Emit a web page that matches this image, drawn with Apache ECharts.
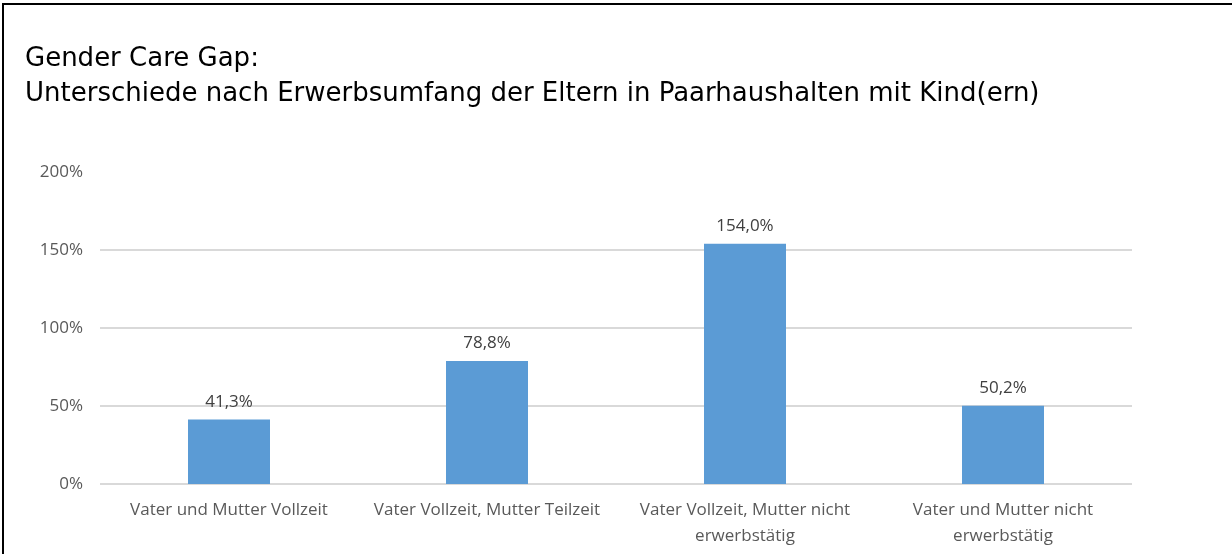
<!DOCTYPE html>
<html>
<head>
<meta charset="utf-8">
<script src="https://cdn.jsdelivr.net/npm/echarts@6/dist/echarts.min.js"></script>
<style>
  html, body { margin: 0; padding: 0; background: #fff; overflow: hidden; }
  #frame { position: absolute; left: 2px; top: 3px; width: 1240px; height: 560px;
           border-top: 2px solid #000; border-left: 2px solid #000; }
  #chart { position: absolute; left: 0; top: 0; width: 1232px; height: 554px; }
</style>
</head>
<body>
<div id="chart"></div>
<div id="frame"></div>
<script>
// Gender Care Gap je Erwerbskonstellation
const categories = [
  'Vater und Mutter Vollzeit',
  'Vater Vollzeit, Mutter Teilzeit',
  'Vater Vollzeit, Mutter nicht\nerwerbstätig',
  'Vater und Mutter nicht\nerwerbstätig'
]
const gapValues = [41.3, 78.8, 154.0, 50.2]
const yTicks = [0, 50, 100, 150, 200]

const chart = echarts.init(document.getElementById('chart'))
chart.setOption({
  animation: false,
  title: {
    text: 'Gender Care Gap:\nUnterschiede nach Erwerbsumfang der Eltern in Paarhaushalten mit Kind(ern)',
    left: 20,
    top: 37,
    textStyle: {
      fontFamily: 'DejaVu Sans',
      fontSize: 26,
      fontWeight: 'normal',
      color: '#000',
      lineHeight: 35
    }
  },
  grid: { left: 100, right: 100, top: 172, bottom: 70 },
  xAxis: {
    type: 'category',
    data: categories,
    axisLine: { show: false },
    axisTick: { show: false },
    axisLabel: {
      interval: 0,
      color: '#595959',
      fontFamily: 'Open Sans',
      fontSize: 17,
      margin: 13,
      lineHeight: 26
    }
  },
  yAxis: {
    type: 'value',
    min: yTicks[0],
    max: yTicks[yTicks.length - 1],
    interval: 50,
    axisLine: { show: false },
    axisTick: { show: false },
    splitLine: {
      lineStyle: { color: ['#d9d9d9', '#d9d9d9', '#d9d9d9', '#d9d9d9', 'rgba(0,0,0,0)'], width: 2 }
    },
    axisLabel: {
      color: '#595959',
      fontFamily: 'Open Sans',
      fontSize: 17,
      margin: 17,
      formatter: v => v + '%'
    }
  },
  series: [{
    type: 'bar',
    data: gapValues,
    barWidth: 82,
    itemStyle: { color: '#5b9bd5' },
    label: {
      show: true,
      position: 'top',
      distance: 9,
      color: '#404040',
      fontFamily: 'Open Sans',
      fontSize: 17,
      formatter: p => p.value.toFixed(1).replace('.', ',') + '%'
    }
  }]
})
</script>
</body>
</html>
